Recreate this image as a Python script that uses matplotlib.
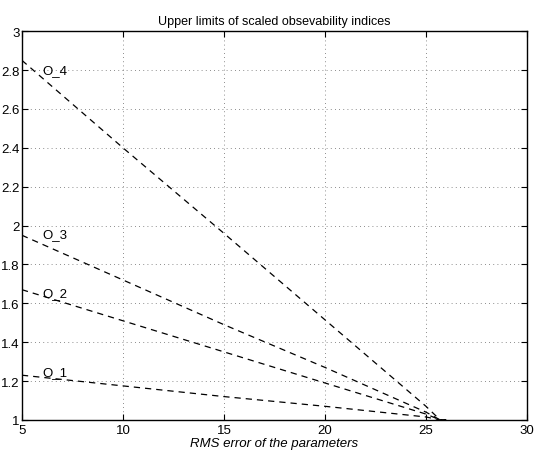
import matplotlib
matplotlib.use("Agg")
import matplotlib.pyplot as plt

x = [5, 10, 15, 20, 25, 25.7, 26]
o4 = [2.85, 2.40, 1.96, 1.515, 1.07, 1.0, 1.0]
o3 = [1.95, 1.72, 1.49, 1.27, 1.04, 1.0, 1.0]
o2 = [1.67, 1.51, 1.35, 1.19, 1.03, 1.0, 1.0]
o1 = [1.23, 1.175, 1.12, 1.07, 1.015, 1.0, 1.0]
series = [o1, o2, o3, o4]
labels = ["O_1", "O_2", "O_3", "O_4"]
label_y = [1.245, 1.65, 1.955, 2.80]
label_x = 6.0

plt.rcParams['font.family'] = ['Liberation Sans', 'DejaVu Sans']
fig = plt.figure(figsize=(5.35, 4.6), dpi=100)
ax = fig.add_axes([0.041, 0.085, 0.944, 0.845])
for s in series:
    ax.plot(x, s, color='black', linestyle=(0, (5, 4)), linewidth=0.9)
for lab, ly in zip(labels, label_y):
    ax.text(label_x, ly, lab, fontsize=9.5, va='center', ha='left')
ax.set_xlim(5, 30)
ax.set_ylim(1, 3)
ax.set_xticks([5, 10, 15, 20, 25, 30])
ax.set_yticks([1, 1.2, 1.4, 1.6, 1.8, 2, 2.2, 2.4, 2.6, 2.8, 3])
ax.set_yticklabels(["1", "1.2", "1.4", "1.6", "1.8", "2", "2.2", "2.4", "2.6", "2.8", "3"])
ax.grid(True, linestyle=(0, (1, 4)), color='black', linewidth=0.6, alpha=0.6)
ax.tick_params(direction='in', top=True, right=True, labelsize=9.5, length=4)
ax.tick_params(axis='y', pad=1.5)
ax.tick_params(axis='x', pad=3)
for sp in ax.spines.values():
    sp.set_linewidth(1.0)
ax.set_title("Upper limits of scaled obsevability indices", fontsize=9, pad=5)
ax.set_xlabel("RMS error of the parameters", fontsize=9.5, style='italic', labelpad=0.5)
fig.savefig("out.png", dpi=100)
